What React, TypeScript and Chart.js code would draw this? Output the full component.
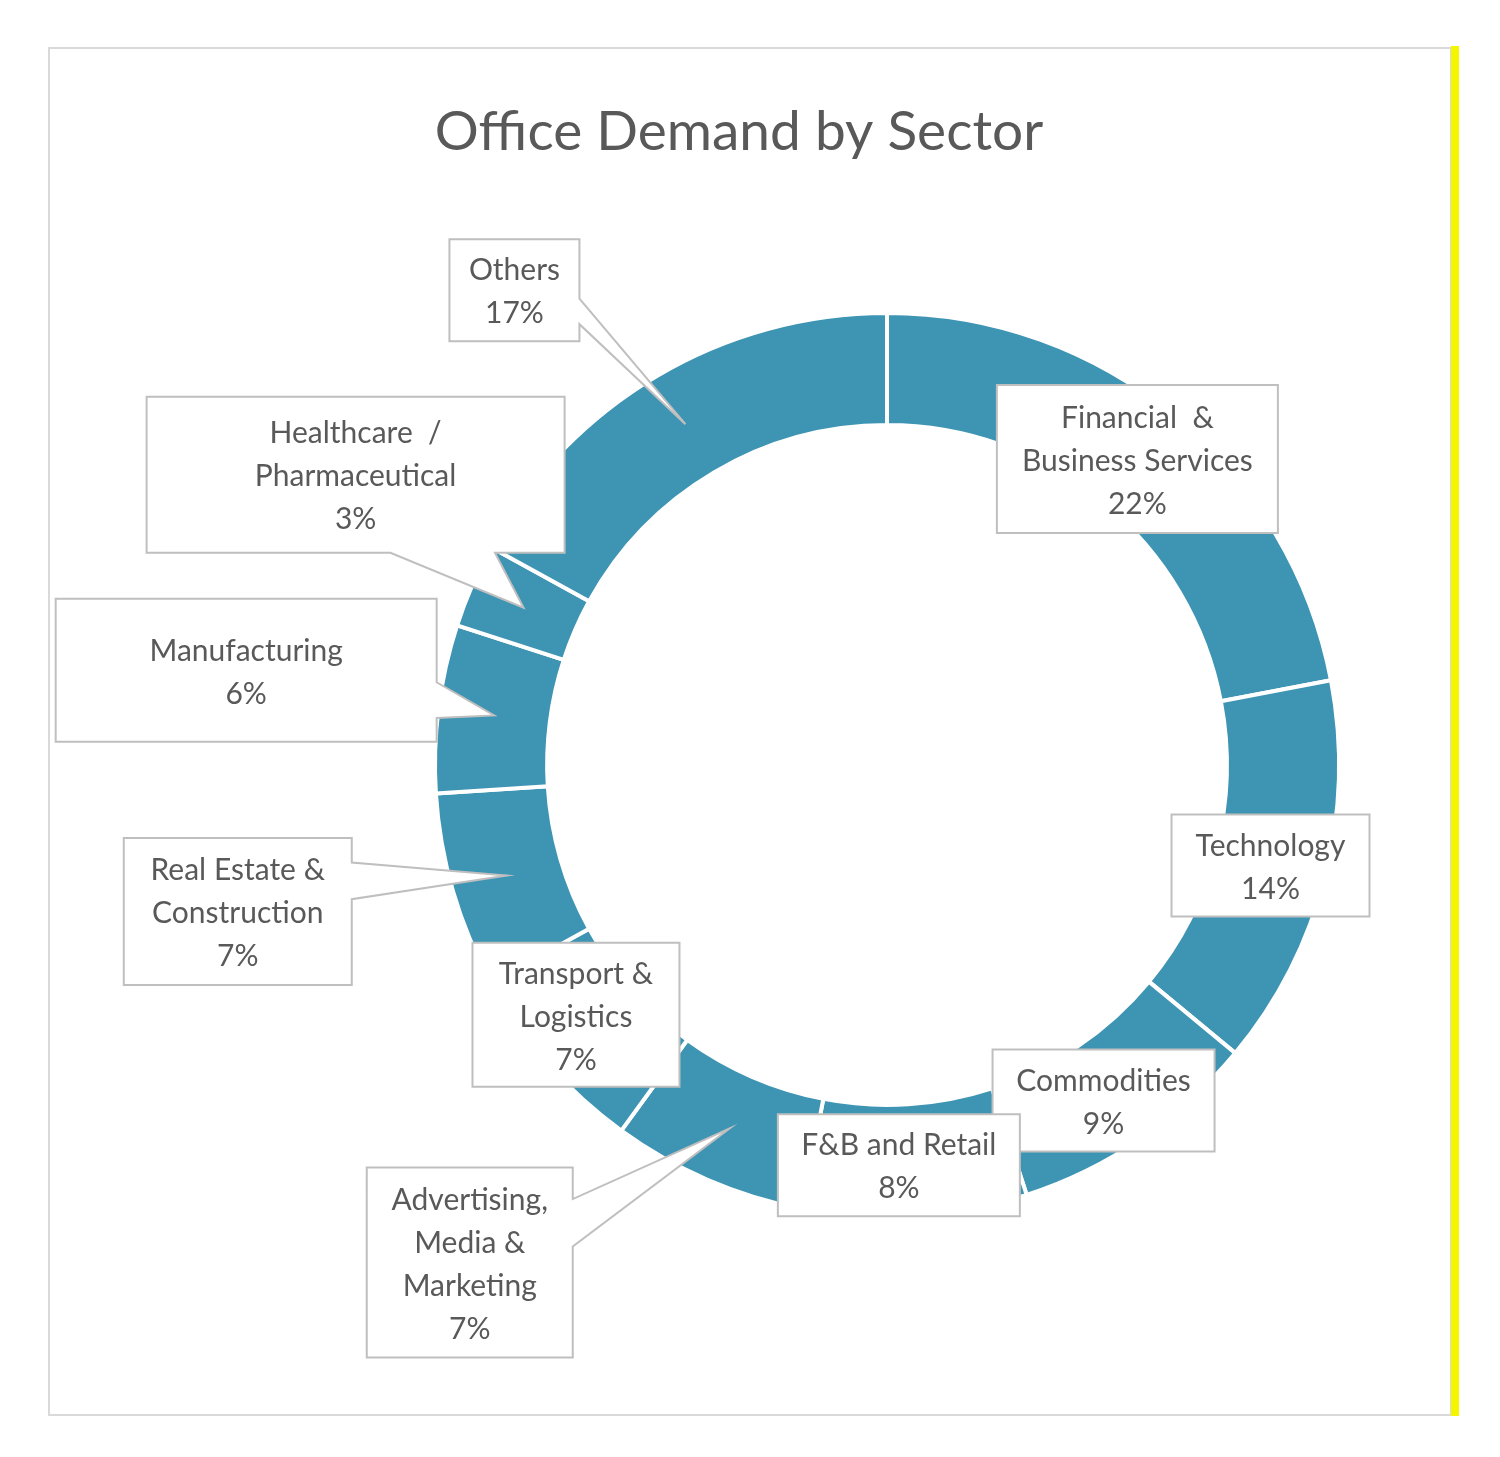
import React, { useEffect, useRef } from "react";
import { Chart, registerables } from "chart.js";

Chart.register(...registerables);

// ---------- data ----------
const chartTitle = "Office Demand by Sector";
const categories = [
  "Financial & Business Services",
  "Technology",
  "Commodities",
  "F&B and Retail",
  "Advertising, Media & Marketing",
  "Transport & Logistics",
  "Real Estate & Construction",
  "Manufacturing",
  "Healthcare / Pharmaceutical",
  "Others",
];
const shares = [22, 14, 9, 8, 7, 7, 7, 6, 3, 17];
const labelLines = [
  ["Financial  &", "Business Services"],
  ["Technology"],
  ["Commodities"],
  ["F&B and Retail"],
  ["Advertising,", "Media &", "Marketing"],
  ["Transport &", "Logistics"],
  ["Real Estate &", "Construction"],
  ["Manufacturing"],
  ["Healthcare  /", "Pharmaceutical"],
  ["Others"],
];

// ---------- layout (callout boxes, offsets relative to slice centroid) ----------
const calloutOffsets = [
  [-2, -1], [0, 2], [-6, 8], [-13, 5], [-260, 134],
  [-14, -12], [-269, 36], [-248, -45], [-168, -133], [-171, -134],
];
const calloutWidths = [281, 198, 222, 242, 206, 207, 228, 381, 418, 130];
const calloutHeights = [148, 102, 102, 102, 190, 144, 147, 143, 156, 102];

const RING_COLOR = "#3E94B3";
const TEXT_COLOR = "#595959";
const FONT = "Lato, 'Open Sans', sans-serif";

const framePlugin = {
  id: "frame",
  beforeDraw(chart: any) {
    const ctx = chart.ctx;
    ctx.save();
    ctx.fillStyle = "#ffffff";
    ctx.fillRect(0, 0, chart.width, chart.height);
    ctx.strokeStyle = "#d9d9d9";
    ctx.lineWidth = 2;
    ctx.strokeRect(49, 48, 1402, 1367);
    ctx.fillStyle = "#f5f500";
    ctx.fillRect(1451, 46, 8, 1370);
    ctx.fillStyle = TEXT_COLOR;
    ctx.font = `55px ${FONT}`;
    ctx.textAlign = "center";
    ctx.textBaseline = "alphabetic";
    ctx.fillText(chartTitle, 739, 150);
    ctx.restore();
  },
};

const calloutPlugin = {
  id: "callouts",
  afterDatasetsDraw(chart: any) {
    const ctx = chart.ctx;
    const meta = chart.getDatasetMeta(0);
    meta.data.forEach((arc: any, i: number) => {
      const tip = arc.tooltipPosition(false);
      const [ox, oy] = calloutOffsets[i];
      const w = calloutWidths[i];
      const h = calloutHeights[i];
      const cx = tip.x + ox;
      const cy = tip.y + oy;
      const l = cx - w / 2, t = cy - h / 2, r = cx + w / 2, b = cy + h / 2;
      const inside = tip.x >= l && tip.x <= r && tip.y >= t && tip.y <= b;
      const dx = tip.x - cx;
      const dy = tip.y - cy;
      let side = "";
      if (!inside) {
        const dq = (dx * h) / w;
        if (Math.abs(dy) - Math.abs(dq) > 0) side = dy > 0 ? "bottom" : "top";
        else side = dx > 0 ? "right" : "left";
      }
      const x1 = l + (w * (dx > 0 ? 7 : 2)) / 12;
      const x2 = l + (w * (dx > 0 ? 10 : 5)) / 12;
      const y1 = t + (h * (dy > 0 ? 7 : 2)) / 12;
      const y2 = t + (h * (dy > 0 ? 10 : 5)) / 12;
      const pts: number[][] = [[l, t]];
      if (side === "top") pts.push([x1, t], [tip.x, tip.y], [x2, t]);
      pts.push([r, t]);
      if (side === "right") pts.push([r, y1], [tip.x, tip.y], [r, y2]);
      pts.push([r, b]);
      if (side === "bottom") pts.push([x2, b], [tip.x, tip.y], [x1, b]);
      pts.push([l, b]);
      if (side === "left") pts.push([l, y2], [tip.x, tip.y], [l, y1]);

      ctx.save();
      ctx.beginPath();
      pts.forEach((p, k) => (k === 0 ? ctx.moveTo(p[0], p[1]) : ctx.lineTo(p[0], p[1])));
      ctx.closePath();
      ctx.fillStyle = "#ffffff";
      ctx.fill();
      ctx.strokeStyle = "#bfbfbf";
      ctx.lineWidth = 2;
      ctx.lineJoin = "miter";
      ctx.stroke();

      const lines = [...labelLines[i], `${shares[i]}%`];
      ctx.fillStyle = TEXT_COLOR;
      ctx.font = `30px ${FONT}`;
      ctx.textAlign = "center";
      ctx.textBaseline = "middle";
      const lh = 43;
      lines.forEach((s, k) => {
        ctx.fillText(s, cx, cy + 2 + (k - (lines.length - 1) / 2) * lh);
      });
      ctx.restore();
    });
  },
};

export default function App() {
  const ref = useRef<HTMLCanvasElement | null>(null);
  useEffect(() => {
    if (!ref.current) return;
    const chart = new Chart(ref.current, {
      type: "doughnut",
      data: {
        labels: categories,
        datasets: [
          {
            data: shares,
            backgroundColor: RING_COLOR,
            borderColor: "#ffffff",
            borderWidth: 4,
            hoverOffset: 0,
          },
        ],
      },
      options: {
        responsive: false,
        animation: false,
        events: [],
        cutout: "75.2%",
        layout: { padding: { left: 433, top: 311, right: 159, bottom: 238 } },
        plugins: {
          legend: { display: false },
          tooltip: { enabled: false },
          title: { display: false },
        },
      } as any,
      plugins: [framePlugin, calloutPlugin],
    });
    return () => chart.destroy();
  }, []);
  return (
    <div style={{ position: "absolute", left: 0, top: 0, width: 1500, height: 1457, overflow: "hidden", background: "#fff" }}>
      <canvas ref={ref} width={1500} height={1457} style={{ display: "block" }} />
    </div>
  );
}
